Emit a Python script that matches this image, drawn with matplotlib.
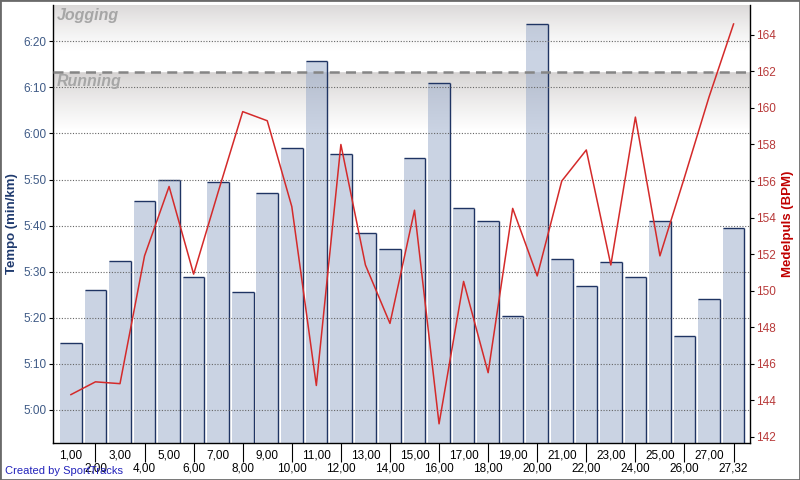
import numpy as np
import matplotlib
matplotlib.use("Agg")
import matplotlib.pyplot as plt
from matplotlib.patches import Rectangle
from matplotlib.ticker import FuncFormatter, FixedLocator

plt.rcParams['font.family'] = ['Liberation Sans', 'DejaVu Sans']

# distance per lap (km) - last lap is the partial one
km_labels = ['%d,00' % i for i in range(1, 28)] + ['27,32']

# tempo per km in seconds (min/km)
tempo_sec = [314.5, 326.0, 332.3, 345.3, 349.9, 328.8, 349.4, 325.5, 347.0, 356.8,
             375.8, 355.5, 338.5, 334.9, 354.6, 370.9, 343.8, 341.1, 320.3, 383.7,
             332.7, 326.8, 332.0, 328.8, 340.9, 316.0, 324.0, 339.4]

# average heart rate per km
pulse_bpm = [144.3, 145.0, 144.9, 151.9, 155.7, 150.9, 155.4, 159.8, 159.3, 154.6,
             144.8, 158.0, 151.4, 148.2, 154.4, 142.7, 150.5, 145.5, 154.5, 150.8,
             156.0, 157.7, 151.4, 159.5, 151.9, 156.2, 160.6, 164.6]

tempo_ticks = [300, 310, 320, 330, 340, 350, 360, 370, 380]
pulse_ticks = list(range(142, 166, 2))

zone_limit = 373.3   # Jogging / Running border (sec/km)
zone_names = ['Jogging', 'Running']

tempo_lim = (292.8, 387.9)
pulse_lim = (141.65, 165.64)
x_lim = (-0.73, 27.67)
bar_w = 0.88


def fmt_tempo(s, pos=None):
    s = int(round(s))
    return '%d:%02d' % (s // 60, s % 60)


def zone_overlay(n=600):
    # grey shading laid over a white background, fading out downwards
    ys = np.linspace(tempo_lim[1], tempo_lim[0], n)
    img = np.zeros((n, 1, 4))
    img[:, 0, :3] = (0.52, 0.49, 0.48)
    for i, y in enumerate(ys):
        if y >= zone_limit:
            t = (tempo_lim[1] - y) / 10.0
            a0 = 0.30
        else:
            t = (zone_limit - y) / 12.5
            a0 = 0.35
        t = min(max(t, 0.0), 1.0)
        img[i, 0, 3] = a0 * (1 - t ** 0.8)
    return img


fig = plt.figure(figsize=(8, 4.8), dpi=100)
ax = fig.add_axes([53 / 800, 1 - 443 / 480, 697 / 800, 438 / 480])
ax2 = ax.twinx()

x = np.arange(len(tempo_sec))
tops = np.array(tempo_sec)

# white under the bars hides the grid, shading then shows through the bars
ax.bar(x, tops, width=bar_w, color='white', zorder=0.6)
ax.imshow(zone_overlay(), extent=(x_lim[0], x_lim[1], tempo_lim[0], tempo_lim[1]),
          aspect='auto', zorder=0.7, interpolation='bilinear')
ax.bar(x, tops, width=bar_w, color='#96a8c8', alpha=0.5, zorder=2)
ax.hlines(tops, x - bar_w / 2, x + bar_w / 2, color='#1f3463', linewidth=1.0, zorder=2.1)
ax.vlines(x + bar_w / 2, tempo_lim[0], tops, color='#1f3463', linewidth=1.0, zorder=2.1)

ax.axhline(zone_limit, color='#858585', linewidth=1.8, dashes=(4, 2.5), zorder=3)
ax.text(x_lim[0] + 0.15, tempo_lim[1] - 0.6, zone_names[0], fontsize=11.5,
        fontweight='bold', fontstyle='italic', color='#a6a6a6', va='top', zorder=4)
ax.text(x_lim[0] + 0.15, zone_limit - 0.4, zone_names[1], fontsize=11.5,
        fontweight='bold', fontstyle='italic', color='#a6a6a6', va='top', zorder=4)

ax.set_xlim(*x_lim)
ax.set_ylim(*tempo_lim)
ax.set_yticks(tempo_ticks)
ax.yaxis.set_major_formatter(FuncFormatter(fmt_tempo))
ax.grid(axis='y', color='#666666', linestyle=(0, (1, 1.5)), linewidth=0.8)
ax.set_axisbelow(False)
for gl in ax.get_ygridlines():
    gl.set_zorder(0.5)

# two rows of km labels
ax.xaxis.set_major_locator(FixedLocator(x[0::2]))
ax.xaxis.set_minor_locator(FixedLocator(x[1::2]))
ax.set_xticklabels(km_labels[0::2])
ax.set_xticklabels(km_labels[1::2], minor=True)
ax.tick_params(axis='x', which='major', length=0, pad=4.5,
               labelsize=8.5, colors='black')
ax.tick_params(axis='x', which='minor', length=14, width=0.8, pad=0,
               labelsize=8.5, colors='black')
ax.tick_params(axis='y', length=3, width=0.8, pad=1.5, labelsize=8.5,
               labelcolor='#3e5a86')

ax.set_ylabel('Tempo (min/km)', fontsize=9.5, fontweight='bold', color='#1f3a6e',
              labelpad=4)

ax2.plot(x, pulse_bpm, color='#d42a2a', linewidth=1.1, zorder=5)
ax2.set_ylim(*pulse_lim)
ax2.set_yticks(pulse_ticks)
ax2.tick_params(axis='y', length=3, width=0.8, pad=1.5, labelsize=8.5,
                labelcolor='#b83a3a')
ax2.set_ylabel('Medelpuls (BPM)', fontsize=9.5, fontweight='bold', color='#c00000',
               labelpad=4)

for a in (ax, ax2):
    a.spines['top'].set_visible(False)
    for s in ('left', 'right', 'bottom'):
        a.spines[s].set_linewidth(1.0)
        a.spines[s].set_color('black')
ax.spines['right'].set_visible(False)
ax2.spines['left'].set_visible(False)
ax2.spines['bottom'].set_visible(False)

fig.text(5 / 800, 1 - 471 / 480, 'Created by SportTracks', fontsize=8,
         color='#2222bb', va='center', ha='left')

fig.patches.append(Rectangle((0, 0), 1, 1, transform=fig.transFigure, fill=False,
                             edgecolor='#6a6a6a', linewidth=2))

fig.savefig('out.png', dpi=100)
